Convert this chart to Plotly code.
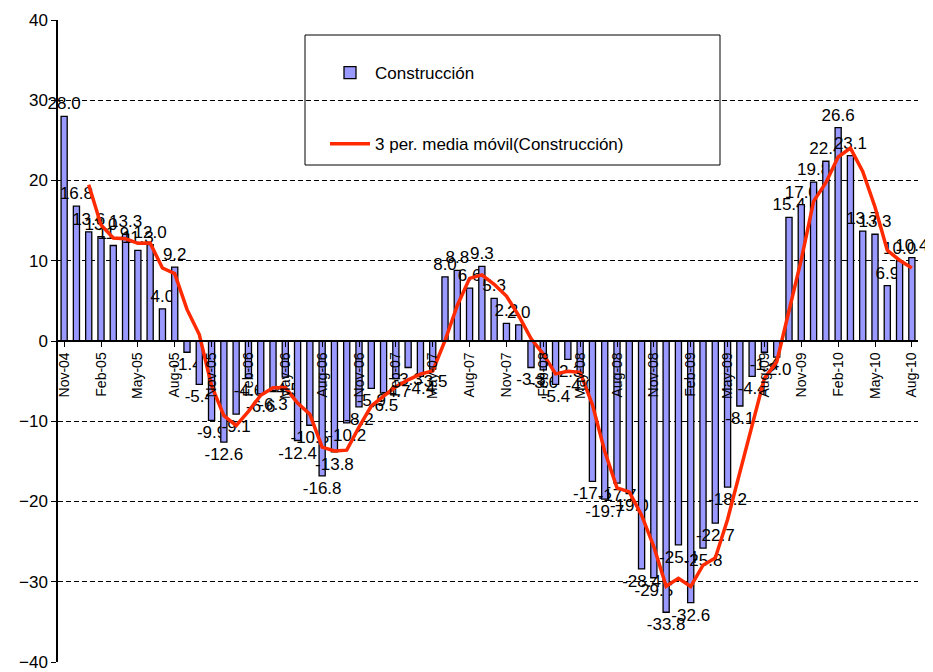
import plotly.graph_objects as go

months = ["Nov-04", "Dec-04", "Jan-05", "Feb-05", "Mar-05", "Apr-05", "May-05", "Jun-05", "Jul-05", "Aug-05",
          "Sep-05", "Oct-05", "Nov-05", "Dec-05", "Jan-06", "Feb-06", "Mar-06", "Apr-06", "May-06", "Jun-06",
          "Jul-06", "Aug-06", "Sep-06", "Oct-06", "Nov-06", "Dec-06", "Jan-07", "Feb-07", "Mar-07", "Apr-07",
          "May-07", "Jun-07", "Jul-07", "Aug-07", "Sep-07", "Oct-07", "Nov-07", "Dec-07", "Jan-08", "Feb-08",
          "Mar-08", "Apr-08", "May-08", "Jun-08", "Jul-08", "Aug-08", "Sep-08", "Oct-08", "Nov-08", "Dec-08",
          "Jan-09", "Feb-09", "Mar-09", "Apr-09", "May-09", "Jun-09", "Jul-09", "Aug-09", "Sep-09", "Oct-09",
          "Nov-09", "Dec-09", "Jan-10", "Feb-10", "Mar-10", "Apr-10", "May-10", "Jun-10", "Jul-10", "Aug-10"]

construccion = [28.0, 16.8, 13.6, 13.0, 11.9, 13.3, 11.3, 12.0, 4.0, 9.2,
                -1.4, -5.4, -9.9, -12.6, -9.1, -4.6, -6.6, -6.3, -4.5, -12.4,
                -10.5, -16.8, -13.8, -10.2, -8.2, -5.9, -6.5, -4.7, -3.3, -4.4,
                -3.5, 8.0, 8.8, 6.6, 9.3, 5.3, 2.2, 2.0, -3.3, -3.6,
                -5.4, -2.3, -4.0, -17.5, -19.7, -17.7, -19.0, -28.4, -29.5, -33.8,
                -25.4, -32.6, -25.8, -22.7, -18.2, -8.1, -4.4, -1.4, -2.0, 15.4,
                17.0, 19.8, 22.4, 26.6, 23.1, 13.7, 13.3, 6.9, 10.0, 10.4]

tick_labels = months[::3]

# 3-period moving average (trendline of the bar series)
media_movil = [None, None] + [
    (construccion[i - 2] + construccion[i - 1] + construccion[i]) / 3
    for i in range(2, len(construccion))
]

FONT = "Liberation Sans, Arial, sans-serif"

fig = go.Figure()
fig.add_trace(go.Bar(
    x=months, y=construccion, name="Construcción",
    marker=dict(color="#9999FF", line=dict(color="black", width=1.3)),
    width=0.5,
    text=[f"{v:.1f}" for v in construccion],
    textposition="outside", textangle=0, constraintext="none",
    textfont=dict(size=17, color="black", family=FONT),
    cliponaxis=False, legendgroup="a",
))
fig.add_trace(go.Scatter(
    x=months, y=media_movil, mode="lines",
    name="3 per. media móvil(Construcción)",
    line=dict(color="#FF2A00", width=3.5),
    legendgroup="b",
))

fig.add_shape(type="rect", xref="paper", yref="paper",
              x0=(305 - 58) / 860, x1=(720 - 58) / 860,
              y0=(662 - 165) / 642, y1=(662 - 35) / 642,
              fillcolor="white", line=dict(color="black", width=1), layer="between")

fig.update_layout(
    width=933, height=672,
    margin=dict(l=50, r=23, t=12, b=18, autoexpand=False),
    paper_bgcolor="white", plot_bgcolor="white",
    font=dict(family=FONT, size=17, color="black"),
    bargap=0.5,
    showlegend=True,
    legend=dict(x=(325 - 58) / 860, xanchor="left", y=(662 - 55) / 642, yanchor="top",
                bgcolor="rgba(0,0,0,0)", borderwidth=0,
                font=dict(size=17, family=FONT, color="black"),
                traceorder="grouped", tracegroupgap=46, itemwidth=40),
    xaxis=dict(
        type="category", categoryorder="array", categoryarray=months,
        range=[-0.5, len(months) - 0.5],
        anchor="free", position=0.5, automargin=False,
        showline=True, linecolor="black", linewidth=1.5,
        showgrid=False, zeroline=False,
        tickmode="array", tickvals=tick_labels, ticktext=tick_labels,
        ticks="outside", ticklen=5, tickcolor="black",
        tickangle=-90, tickfont=dict(size=14, family=FONT, color="black"),
    ),
    yaxis=dict(
        range=[-40, 40], dtick=10, tick0=0, automargin=False,
        showline=True, linecolor="black", linewidth=1.5,
        ticks="outside", ticklen=5, tickcolor="black",
        showgrid=True, gridcolor="black", gridwidth=1, griddash="5px,3px",
        zeroline=True, zerolinecolor="black", zerolinewidth=1.5,
        tickfont=dict(size=17, family=FONT, color="black"),
    ),
)

fig.write_html("out.html")
